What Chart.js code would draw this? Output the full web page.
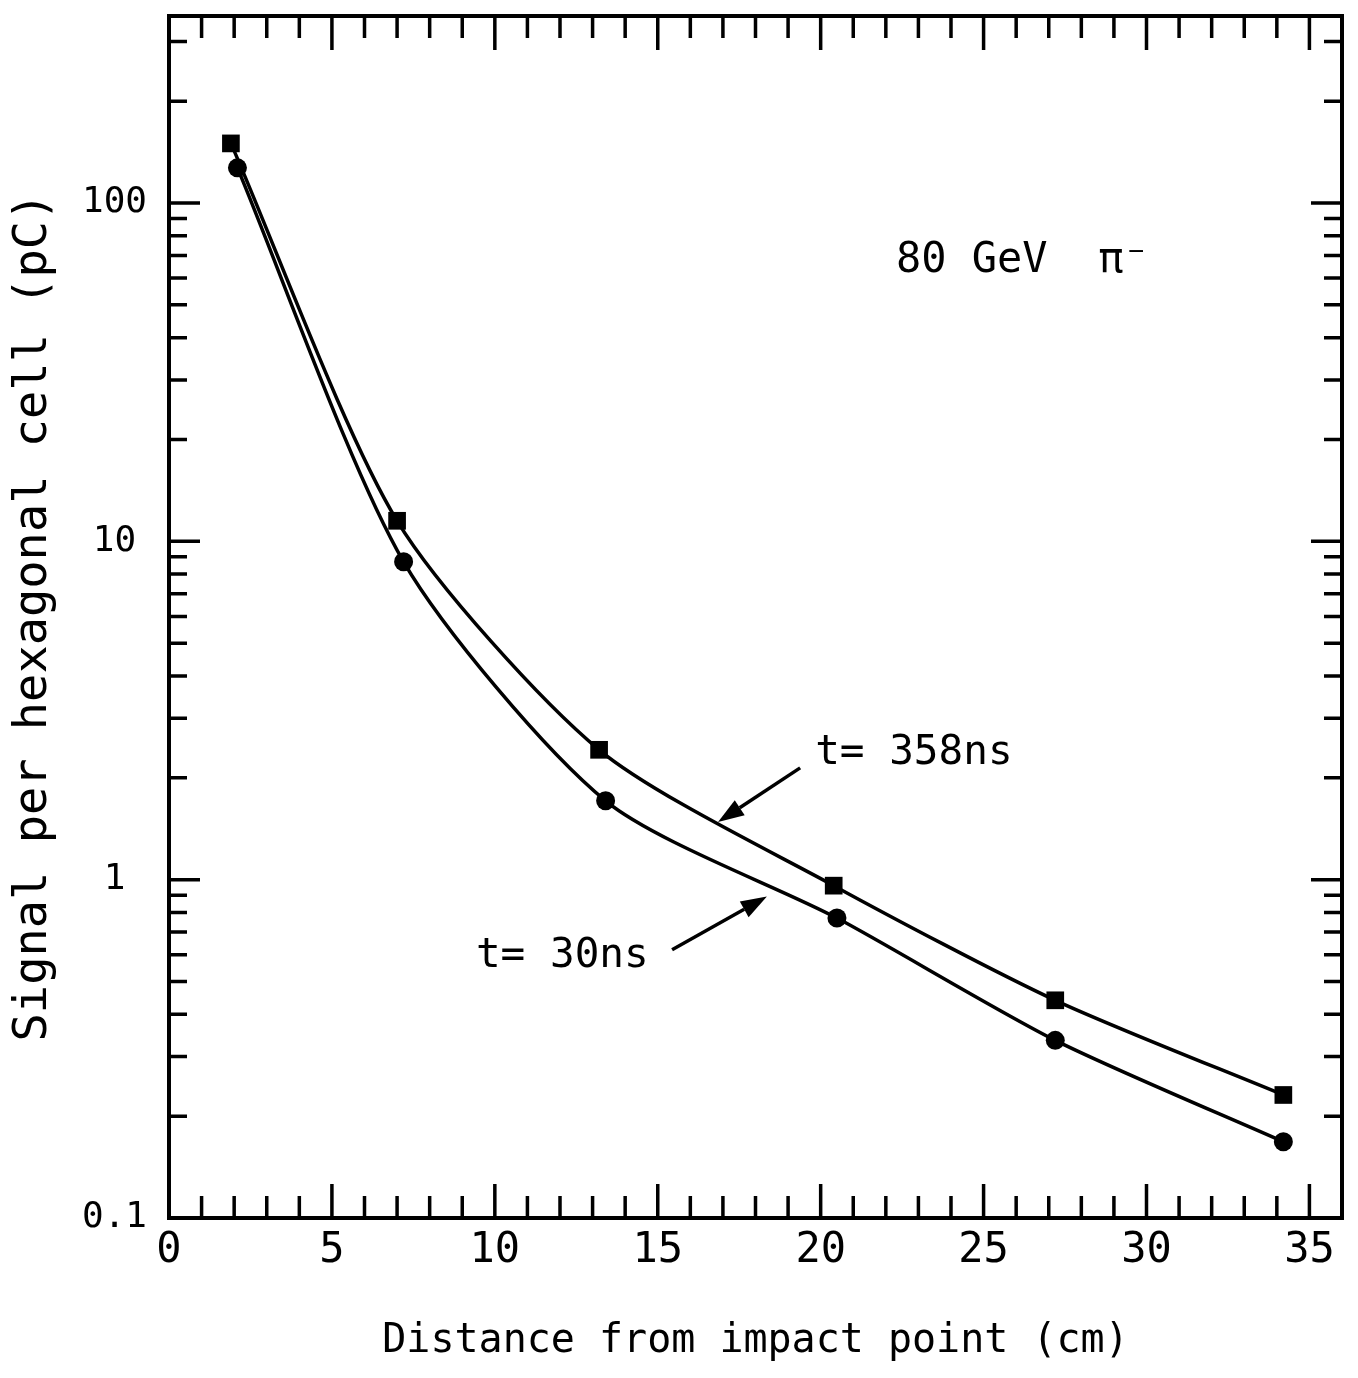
<!DOCTYPE html>
<html>
<head>
<meta charset="utf-8">
<script src="https://cdn.jsdelivr.net/npm/chart.js@4"></script>
<style>
  html, body { margin: 0; padding: 0; background: #fff; }
</style>
</head>
<body>
<canvas id="myChart" width="1358" height="1378"></canvas>
<script>
// values
var distance358 = [1.9, 7.0, 13.2, 20.4, 27.2, 34.2];
var signal358 = [150, 11.5, 2.42, 0.96, 0.44, 0.231];
var distance30 = [2.1, 7.2, 13.4, 20.5, 27.2, 34.2];
var signal30 = [127, 8.7, 1.71, 0.77, 0.335, 0.168];

var xTicks = [0, 5, 10, 15, 20, 25, 30, 35];
var yTicks = [0.1, 1, 10, 100];
var yTickLabels = ['0.1', '1', '10', '100'];

var FONT = 'DejaVu Sans Mono';

// text labels and arrows, in data units
var notes = [
  {text: '80 GeV  π⁻', x: 22.31, y: 62.5, size: 42},
  {text: 't= 358ns', x: 19.83, y: 2.19, size: 41},
  {text: 't= 30ns', x: 9.42, y: 0.553, size: 41}
];
var arrows = [
  {from: [19.37, 2.14], to: [16.85, 1.48]},
  {from: [15.44, 0.621], to: [18.35, 0.891]}
];

function pairs(xs, ys) {
  var out = [];
  for (var i in xs) {
    out.push({x: xs[i], y: ys[i]});
  }
  return out;
}

// frame with inward ticks on all four sides, plus the notes
var frameTicks = {
  id: 'frameTicks',
  afterDraw: function(chart) {
    var ctx = chart.ctx;
    var a = chart.chartArea;
    var x = chart.scales.x, y = chart.scales.y;
    ctx.save();
    ctx.strokeStyle = '#000';
    ctx.fillStyle = '#000';
    ctx.lineWidth = 3.5;
    ctx.beginPath();
    for (var v = 1; v <= 35; v++) {
      var px = x.getPixelForValue(v);
      var len = v % 5 === 0 ? 34 : 22;
      ctx.moveTo(px, a.bottom); ctx.lineTo(px, a.bottom - len);
      ctx.moveTo(px, a.top); ctx.lineTo(px, a.top + len);
    }
    for (var e = -1; e <= 2; e++) {
      for (var m = 1; m <= 9; m++) {
        var val = m * Math.pow(10, e);
        if (val < y.min || val > y.max) continue;
        var py = y.getPixelForValue(val);
        var l = m === 1 ? 31 : 18;
        ctx.moveTo(a.left, py); ctx.lineTo(a.left + l, py);
        ctx.moveTo(a.right, py); ctx.lineTo(a.right - l, py);
      }
    }
    ctx.stroke();

    ctx.lineWidth = 4;
    ctx.strokeRect(a.left, a.top, a.right - a.left, a.bottom - a.top);

    ctx.textBaseline = 'alphabetic';
    ctx.textAlign = 'left';
    notes.forEach(function(n) {
      ctx.font = n.size + 'px "' + FONT + '"';
      ctx.fillText(n.text, x.getPixelForValue(n.x), y.getPixelForValue(n.y));
    });

    ctx.lineWidth = 3.5;
    arrows.forEach(function(ar) {
      var x1 = x.getPixelForValue(ar.from[0]), y1 = y.getPixelForValue(ar.from[1]);
      var x2 = x.getPixelForValue(ar.to[0]), y2 = y.getPixelForValue(ar.to[1]);
      var ang = Math.atan2(y2 - y1, x2 - x1);
      var hl = 26, hw = 9;
      var bx = x2 - hl * Math.cos(ang), by = y2 - hl * Math.sin(ang);
      ctx.beginPath();
      ctx.moveTo(x1, y1); ctx.lineTo(bx, by);
      ctx.stroke();
      ctx.beginPath();
      ctx.moveTo(x2, y2);
      ctx.lineTo(bx + hw * Math.sin(ang), by - hw * Math.cos(ang));
      ctx.lineTo(bx - hw * Math.sin(ang), by + hw * Math.cos(ang));
      ctx.closePath();
      ctx.fill();
    });
    ctx.restore();
  }
};

var ctx = document.getElementById('myChart');
var chart = new Chart(ctx, {
  type: 'scatter',
  data: {
    datasets: [{
      label: 't= 358ns',
      data: pairs(distance358, signal358),
      showLine: true,
      borderColor: '#000',
      backgroundColor: '#000',
      borderWidth: 3.5,
      pointStyle: 'rect',
      pointRadius: 12.5,
      pointBorderWidth: 0,
      tension: 0.25
    }, {
      label: 't= 30ns',
      data: pairs(distance30, signal30),
      showLine: true,
      borderColor: '#000',
      backgroundColor: '#000',
      borderWidth: 3.5,
      pointStyle: 'circle',
      pointRadius: 9.5,
      pointBorderWidth: 0,
      tension: 0.25
    }]
  },
  options: {
    responsive: false,
    animation: false,
    devicePixelRatio: 1,
    layout: {padding: {top: 16, right: 16, left: 0, bottom: 0}},
    plugins: {legend: {display: false}, tooltip: {enabled: false}},
    scales: {
      x: {
        type: 'linear',
        min: 0,
        max: 36,
        afterFit: function(s) { s.height = 160; s.paddingLeft = 0; s.paddingRight = 0; },
        afterBuildTicks: function(s) { s.ticks = xTicks.map(function(v) { return {value: v}; }); },
        grid: {display: false},
        border: {display: false},
        ticks: {
          color: '#000',
          padding: 0,
          maxRotation: 0,
          autoSkip: false,
          font: {family: FONT, size: 42}
        },
        title: {
          display: true,
          text: 'Distance from impact point (cm)',
          color: '#000',
          font: {family: FONT, size: 40},
          padding: {top: 0, bottom: 12}
        }
      },
      y: {
        type: 'logarithmic',
        min: 0.1,
        max: 357,
        afterFit: function(s) { s.width = 169; s.paddingTop = 0; s.paddingBottom = 0; },
        afterBuildTicks: function(s) { s.ticks = yTicks.map(function(v) { return {value: v}; }); },
        grid: {display: false},
        border: {display: false},
        ticks: {
          color: '#000',
          padding: 14,
          crossAlign: 'center',
          autoSkip: false,
          font: {family: FONT, size: 36},
          callback: function(value) {
            var i = yTicks.indexOf(value);
            return i >= 0 ? yTickLabels[i] : '';
          }
        },
        title: {
          display: true,
          text: 'Signal per hexagonal cell (pC)',
          color: '#000',
          font: {family: FONT, size: 47},
          padding: {top: 6, bottom: 0}
        }
      }
    }
  },
  plugins: [frameTicks]
});
</script>
</body>
</html>
